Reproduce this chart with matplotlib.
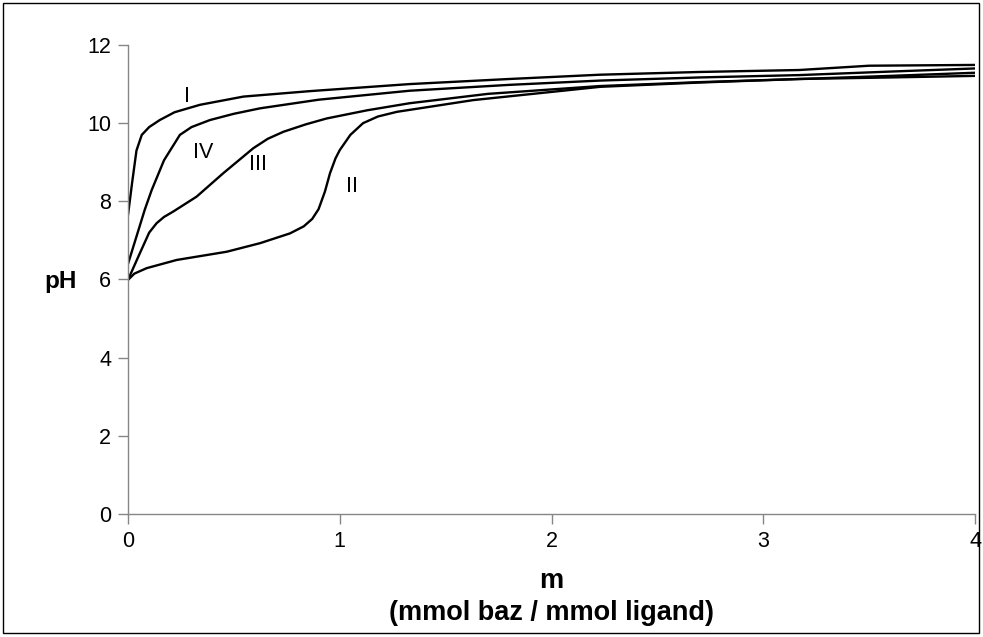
import matplotlib
matplotlib.use("Agg")
import matplotlib.pyplot as plt
from matplotlib.patches import Rectangle

plt.rcParams['font.family'] = ['Liberation Sans', 'DejaVu Sans']

# Curve I
m_I = [0.0, 0.02, 0.04, 0.065, 0.1, 0.15, 0.22, 0.34, 0.545, 0.86, 1.33, 1.8, 2.23, 2.7, 3.17, 3.5, 4.0]
ph_I = [7.65, 8.5, 9.3, 9.7, 9.9, 10.08, 10.28, 10.47, 10.68, 10.82, 11.0, 11.13, 11.24, 11.31, 11.36, 11.47, 11.49]

# Curve IV
m_IV = [0.0, 0.04, 0.08, 0.112, 0.17, 0.245, 0.3, 0.387, 0.5, 0.624, 0.9, 1.33, 1.8, 2.23, 2.7, 3.17, 3.6, 4.0]
ph_IV = [6.4, 7.1, 7.8, 8.29, 9.05, 9.7, 9.9, 10.08, 10.24, 10.38, 10.6, 10.83, 10.98, 11.09, 11.17, 11.23, 11.32, 11.4]

# Curve III
m_III = [0.0, 0.05, 0.1, 0.135, 0.17, 0.214, 0.324, 0.45, 0.592, 0.66, 0.734, 0.84, 0.938, 1.13, 1.33, 1.7, 2.23, 2.7, 3.17, 3.6, 4.0]
ph_III = [5.99, 6.6, 7.2, 7.44, 7.6, 7.74, 8.12, 8.72, 9.36, 9.6, 9.78, 9.97, 10.12, 10.33, 10.51, 10.75, 10.95, 11.05, 11.13, 11.21, 11.29]

# Curve II
m_II = [0.0, 0.03, 0.088, 0.23, 0.466, 0.624, 0.765, 0.83, 0.87, 0.9, 0.93, 0.954, 0.98, 1.0, 1.05, 1.11, 1.18, 1.27, 1.63, 2.23, 2.7, 3.17, 3.6, 4.0]
ph_II = [5.99, 6.15, 6.29, 6.5, 6.71, 6.93, 7.18, 7.36, 7.55, 7.8, 8.25, 8.72, 9.1, 9.31, 9.70, 10.0, 10.17, 10.29, 10.59, 10.93, 11.04, 11.13, 11.17, 11.21]

curve_labels = ['I', 'IV', 'III', 'II']
label_m = [0.279, 0.354, 0.614, 1.058]
label_ph = [10.67, 9.24, 8.93, 8.37]

x_ticks = [0, 1, 2, 3, 4]
y_ticks = [0, 2, 4, 6, 8, 10, 12]

fig = plt.figure(figsize=(9.83, 6.37), dpi=100)
ax = fig.add_axes([128/983, 1-514/637, (975-128)/983, (514-45)/637])

for mx, py in [(m_I, ph_I), (m_IV, ph_IV), (m_III, ph_III), (m_II, ph_II)]:
    ax.plot(mx, py, color='black', lw=1.7, solid_joinstyle='round', solid_capstyle='round')

for t, xm, yp in zip(curve_labels, label_m, label_ph):
    ax.text(xm, yp, t, fontsize=15.5, ha='center', va='center')

ax.set_xlim(0, 4)
ax.set_ylim(0, 12)
ax.set_xticks(x_ticks)
ax.set_yticks(y_ticks)
ax.tick_params(axis='both', direction='out', length=7, width=1, color='#868686', labelsize=15.5, pad=5)
for s in ['top', 'right']:
    ax.spines[s].set_visible(False)
for s in ['left', 'bottom']:
    ax.spines[s].set_color('#868686')
    ax.spines[s].set_linewidth(1)

ax.set_xlabel('m\n(mmol baz / mmol ligand)', fontsize=19.5, fontweight='bold', linespacing=1.3)
ax.xaxis.set_label_coords(0.5, (514-597)/469, transform=ax.transAxes)
ax.xaxis.label.set_va('center')
ax.set_ylabel('pH', fontsize=17.5, fontweight='bold', rotation=0, va='center', ha='center')
ax.yaxis.set_label_coords((61-128)/847, 0.5 - (282-279.5)/469)

fig.patches.append(Rectangle((3/983, 4/637), 976/983, 630/637, transform=fig.transFigure,
                             fill=False, edgecolor='black', lw=1))

fig.savefig('out.png', dpi=100)
